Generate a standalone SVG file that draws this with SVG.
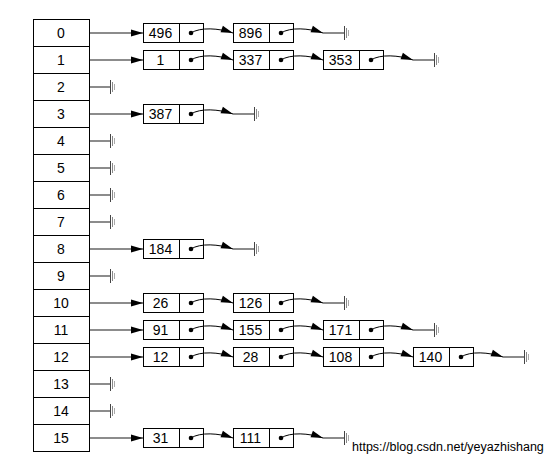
<svg xmlns="http://www.w3.org/2000/svg" xmlns:xlink="http://www.w3.org/1999/xlink" width="549" height="463" viewBox="0 0 549 463">
<style>
.cell{fill:#fff;stroke:#000;stroke-width:1}
.t{font-family:"Liberation Sans",Arial,sans-serif;font-size:14px;fill:#000;text-anchor:middle}
.wm{font-family:"Liberation Sans",Arial,sans-serif;font-size:12.5px;fill:#000}
.ln{fill:none;stroke:#666;stroke-width:1.5}
.cv{fill:none;stroke:#000;stroke-width:1}
.dot{fill:#000}
</style>
<defs>
<marker id="ah" markerUnits="userSpaceOnUse" markerWidth="12" markerHeight="8" refX="12" refY="3.5" orient="auto" overflow="visible">
<path d="M0,0 L12,3.5 L0,7 z" fill="#000"/>
</marker>
<g id="gnd">
<line x1="0.5" y1="-7" x2="0.5" y2="7" stroke="#444" stroke-width="1"/>
<line x1="2.5" y1="-5" x2="2.5" y2="5" stroke="#888" stroke-width="1"/>
<line x1="4.5" y1="-3" x2="4.5" y2="3" stroke="#aaa" stroke-width="1"/>
</g>
</defs>
<rect width="549" height="463" fill="#fff"/>

<g id="table">
<g id="slot0"><rect class="cell" x="33.5" y="19.5" width="56" height="27"/><text class="t" x="61" y="38">0</text></g>
<g id="slot1"><rect class="cell" x="33.5" y="46.5" width="56" height="27"/><text class="t" x="61" y="65">1</text></g>
<g id="slot2"><rect class="cell" x="33.5" y="73.5" width="56" height="27"/><text class="t" x="61" y="92">2</text></g>
<g id="slot3"><rect class="cell" x="33.5" y="100.5" width="56" height="27"/><text class="t" x="61" y="119">3</text></g>
<g id="slot4"><rect class="cell" x="33.5" y="127.5" width="56" height="27"/><text class="t" x="61" y="146">4</text></g>
<g id="slot5"><rect class="cell" x="33.5" y="154.5" width="56" height="27"/><text class="t" x="61" y="173">5</text></g>
<g id="slot6"><rect class="cell" x="33.5" y="181.5" width="56" height="27"/><text class="t" x="61" y="200">6</text></g>
<g id="slot7"><rect class="cell" x="33.5" y="208.5" width="56" height="27"/><text class="t" x="61" y="227">7</text></g>
<g id="slot8"><rect class="cell" x="33.5" y="235.5" width="56" height="27"/><text class="t" x="61" y="254">8</text></g>
<g id="slot9"><rect class="cell" x="33.5" y="262.5" width="56" height="27"/><text class="t" x="61" y="281">9</text></g>
<g id="slot10"><rect class="cell" x="33.5" y="289.5" width="56" height="27"/><text class="t" x="61" y="308">10</text></g>
<g id="slot11"><rect class="cell" x="33.5" y="316.5" width="56" height="27"/><text class="t" x="61" y="335">11</text></g>
<g id="slot12"><rect class="cell" x="33.5" y="343.5" width="56" height="27"/><text class="t" x="61" y="362">12</text></g>
<g id="slot13"><rect class="cell" x="33.5" y="370.5" width="56" height="27"/><text class="t" x="61" y="389">13</text></g>
<g id="slot14"><rect class="cell" x="33.5" y="397.5" width="56" height="27"/><text class="t" x="61" y="416">14</text></g>
<g id="slot15"><rect class="cell" x="33.5" y="424.5" width="56" height="27"/><text class="t" x="61" y="443">15</text></g>
</g>

<g id="nodes">
<g id="n496"><rect class="cell" x="143.5" y="23.5" width="60" height="19"/><line x1="179.5" y1="23.5" x2="179.5" y2="42.5" stroke="#000"/><text class="t" x="160.5" y="38">496</text><circle class="dot" cx="191" cy="33" r="2.3"/></g>
<g id="n896"><rect class="cell" x="233.5" y="23.5" width="60" height="19"/><line x1="269.5" y1="23.5" x2="269.5" y2="42.5" stroke="#000"/><text class="t" x="250.5" y="38">896</text><circle class="dot" cx="281" cy="33" r="2.3"/></g>

<g id="n1"><rect class="cell" x="143.5" y="50.5" width="60" height="19"/><line x1="179.5" y1="50.5" x2="179.5" y2="69.5" stroke="#000"/><text class="t" x="160.5" y="65">1</text><circle class="dot" cx="191" cy="60" r="2.3"/></g>
<g id="n337"><rect class="cell" x="233.5" y="50.5" width="60" height="19"/><line x1="269.5" y1="50.5" x2="269.5" y2="69.5" stroke="#000"/><text class="t" x="250.5" y="65">337</text><circle class="dot" cx="281" cy="60" r="2.3"/></g>
<g id="n353"><rect class="cell" x="323.5" y="50.5" width="60" height="19"/><line x1="359.5" y1="50.5" x2="359.5" y2="69.5" stroke="#000"/><text class="t" x="340.5" y="65">353</text><circle class="dot" cx="371" cy="60" r="2.3"/></g>

<g id="n387"><rect class="cell" x="143.5" y="104.5" width="60" height="19"/><line x1="179.5" y1="104.5" x2="179.5" y2="123.5" stroke="#000"/><text class="t" x="160.5" y="119">387</text><circle class="dot" cx="191" cy="114" r="2.3"/></g>

<g id="n184"><rect class="cell" x="143.5" y="239.5" width="60" height="19"/><line x1="179.5" y1="239.5" x2="179.5" y2="258.5" stroke="#000"/><text class="t" x="160.5" y="254">184</text><circle class="dot" cx="191" cy="249" r="2.3"/></g>

<g id="n26"><rect class="cell" x="143.5" y="293.5" width="60" height="19"/><line x1="179.5" y1="293.5" x2="179.5" y2="312.5" stroke="#000"/><text class="t" x="160.5" y="308">26</text><circle class="dot" cx="191" cy="303" r="2.3"/></g>
<g id="n126"><rect class="cell" x="233.5" y="293.5" width="60" height="19"/><line x1="269.5" y1="293.5" x2="269.5" y2="312.5" stroke="#000"/><text class="t" x="250.5" y="308">126</text><circle class="dot" cx="281" cy="303" r="2.3"/></g>

<g id="n91"><rect class="cell" x="143.5" y="320.5" width="60" height="19"/><line x1="179.5" y1="320.5" x2="179.5" y2="339.5" stroke="#000"/><text class="t" x="160.5" y="335">91</text><circle class="dot" cx="191" cy="330" r="2.3"/></g>
<g id="n155"><rect class="cell" x="233.5" y="320.5" width="60" height="19"/><line x1="269.5" y1="320.5" x2="269.5" y2="339.5" stroke="#000"/><text class="t" x="250.5" y="335">155</text><circle class="dot" cx="281" cy="330" r="2.3"/></g>
<g id="n171"><rect class="cell" x="323.5" y="320.5" width="60" height="19"/><line x1="359.5" y1="320.5" x2="359.5" y2="339.5" stroke="#000"/><text class="t" x="340.5" y="335">171</text><circle class="dot" cx="371" cy="330" r="2.3"/></g>

<g id="n12"><rect class="cell" x="143.5" y="347.5" width="60" height="19"/><line x1="179.5" y1="347.5" x2="179.5" y2="366.5" stroke="#000"/><text class="t" x="160.5" y="362">12</text><circle class="dot" cx="191" cy="357" r="2.3"/></g>
<g id="n28"><rect class="cell" x="233.5" y="347.5" width="60" height="19"/><line x1="269.5" y1="347.5" x2="269.5" y2="366.5" stroke="#000"/><text class="t" x="250.5" y="362">28</text><circle class="dot" cx="281" cy="357" r="2.3"/></g>
<g id="n108"><rect class="cell" x="323.5" y="347.5" width="60" height="19"/><line x1="359.5" y1="347.5" x2="359.5" y2="366.5" stroke="#000"/><text class="t" x="340.5" y="362">108</text><circle class="dot" cx="371" cy="357" r="2.3"/></g>
<g id="n140"><rect class="cell" x="413.5" y="347.5" width="60" height="19"/><line x1="449.5" y1="347.5" x2="449.5" y2="366.5" stroke="#000"/><text class="t" x="430.5" y="362">140</text><circle class="dot" cx="461" cy="357" r="2.3"/></g>

<g id="n31"><rect class="cell" x="143.5" y="428.5" width="60" height="19"/><line x1="179.5" y1="428.5" x2="179.5" y2="447.5" stroke="#000"/><text class="t" x="160.5" y="443">31</text><circle class="dot" cx="191" cy="438" r="2.3"/></g>
<g id="n111"><rect class="cell" x="233.5" y="428.5" width="60" height="19"/><line x1="269.5" y1="428.5" x2="269.5" y2="447.5" stroke="#000"/><text class="t" x="250.5" y="443">111</text><circle class="dot" cx="281" cy="438" r="2.3"/></g>
</g>

<g id="connectors">
<!-- table to first nodes -->
<path class="ln" d="M90,33 H143" marker-end="url(#ah)"/>
<path class="ln" d="M90,60 H143" marker-end="url(#ah)"/>
<path class="ln" d="M90,114 H143" marker-end="url(#ah)"/>
<path class="ln" d="M90,249 H143" marker-end="url(#ah)"/>
<path class="ln" d="M90,303 H143" marker-end="url(#ah)"/>
<path class="ln" d="M90,330 H143" marker-end="url(#ah)"/>
<path class="ln" d="M90,357 H143" marker-end="url(#ah)"/>
<path class="ln" d="M90,438 H143" marker-end="url(#ah)"/>
<!-- empty slots -->
<path class="ln" d="M90,87 H110"/><use xlink:href="#gnd" x="110" y="87"/>
<path class="ln" d="M90,141 H110"/><use xlink:href="#gnd" x="110" y="141"/>
<path class="ln" d="M90,168 H110"/><use xlink:href="#gnd" x="110" y="168"/>
<path class="ln" d="M90,195 H110"/><use xlink:href="#gnd" x="110" y="195"/>
<path class="ln" d="M90,222 H110"/><use xlink:href="#gnd" x="110" y="222"/>
<path class="ln" d="M90,276 H110"/><use xlink:href="#gnd" x="110" y="276"/>
<path class="ln" d="M90,384 H110"/><use xlink:href="#gnd" x="110" y="384"/>
<path class="ln" d="M90,411 H110"/><use xlink:href="#gnd" x="110" y="411"/>
<!-- row 0 -->
<path class="cv" d="M191,33 C200,27 219,28 233,33" marker-end="url(#ah)"/>
<path class="cv" d="M281,33 C290,27 309,28 323,33" marker-end="url(#ah)"/>
<path class="ln" d="M323,33 H344"/><use xlink:href="#gnd" x="344" y="33"/>
<!-- row 1 -->
<path class="cv" d="M191,60 C200,54 219,55 233,60" marker-end="url(#ah)"/>
<path class="cv" d="M281,60 C290,54 309,55 323,60" marker-end="url(#ah)"/>
<path class="cv" d="M371,60 C380,54 399,55 413,60" marker-end="url(#ah)"/>
<path class="ln" d="M413,60 H434"/><use xlink:href="#gnd" x="434" y="60"/>
<!-- row 3 -->
<path class="cv" d="M191,114 C200,108 219,109 233,114" marker-end="url(#ah)"/>
<path class="ln" d="M233,114 H254"/><use xlink:href="#gnd" x="254" y="114"/>
<!-- row 8 -->
<path class="cv" d="M191,249 C200,243 219,244 233,249" marker-end="url(#ah)"/>
<path class="ln" d="M233,249 H254"/><use xlink:href="#gnd" x="254" y="249"/>
<!-- row 10 -->
<path class="cv" d="M191,303 C200,297 219,298 233,303" marker-end="url(#ah)"/>
<path class="cv" d="M281,303 C290,297 309,298 323,303" marker-end="url(#ah)"/>
<path class="ln" d="M323,303 H344"/><use xlink:href="#gnd" x="344" y="303"/>
<!-- row 11 -->
<path class="cv" d="M191,330 C200,324 219,325 233,330" marker-end="url(#ah)"/>
<path class="cv" d="M281,330 C290,324 309,325 323,330" marker-end="url(#ah)"/>
<path class="cv" d="M371,330 C380,324 399,325 413,330" marker-end="url(#ah)"/>
<path class="ln" d="M413,330 H434"/><use xlink:href="#gnd" x="434" y="330"/>
<!-- row 12 -->
<path class="cv" d="M191,357 C200,351 219,352 233,357" marker-end="url(#ah)"/>
<path class="cv" d="M281,357 C290,351 309,352 323,357" marker-end="url(#ah)"/>
<path class="cv" d="M371,357 C380,351 399,352 413,357" marker-end="url(#ah)"/>
<path class="cv" d="M461,357 C470,351 489,352 503,357" marker-end="url(#ah)"/>
<path class="ln" d="M503,357 H524"/><use xlink:href="#gnd" x="524" y="357"/>
<!-- row 15 -->
<path class="cv" d="M191,438 C200,432 219,433 233,438" marker-end="url(#ah)"/>
<path class="cv" d="M281,438 C290,432 309,433 323,438" marker-end="url(#ah)"/>
<path class="ln" d="M323,438 H344"/><use xlink:href="#gnd" x="344" y="438"/>
</g>

<text class="wm" x="352" y="451">https://blog.csdn.net/yeyazhishang</text>
</svg>
